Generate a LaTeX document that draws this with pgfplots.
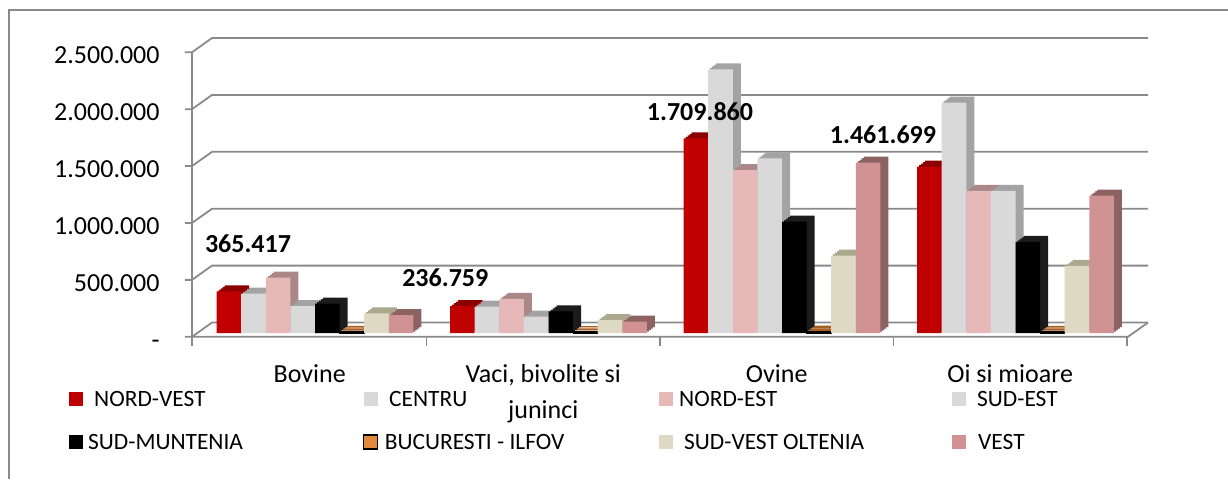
\documentclass[border=0pt]{standalone}
\usepackage{fontspec}
\setmainfont{Carlito}
\usepackage{pgfplots}
\pgfplotsset{compat=1.18}
\definecolor{frame}{HTML}{8A8A8A}
\definecolor{nv}{HTML}{C00000}\definecolor{nvS}{HTML}{8B0000}
\definecolor{ce}{HTML}{D9D9D9}\definecolor{ceS}{HTML}{A3A3A3}
\definecolor{ne}{HTML}{E6B9B8}\definecolor{neS}{HTML}{A98887}
\definecolor{se}{HTML}{D9D9D9}\definecolor{seS}{HTML}{A3A3A3}
\definecolor{sm}{HTML}{000000}\definecolor{smS}{HTML}{1C1C1C}
\definecolor{buc}{HTML}{E08A3C}\definecolor{bucS}{HTML}{A85F22}
\definecolor{sv}{HTML}{DDD9C3}\definecolor{svS}{HTML}{ABA88F}
\definecolor{ve}{HTML}{D09292}\definecolor{veS}{HTML}{8C6262}
% #1 front style, #2 depth colour, #3 bar shift, #4 coordinates, #5 legend text
\newcommand{\barseries}[5]{%
  \addplot[ybar, fill=#2, draw=none, bar shift=#3, xshift=1pt, yshift=0.75pt, forget plot] coordinates {#4};
  \addplot[ybar, fill=#2, draw=none, bar shift=#3, xshift=2pt, yshift=1.5pt, forget plot] coordinates {#4};
  \addplot[ybar, fill=#2, draw=none, bar shift=#3, xshift=3pt, yshift=2.25pt, forget plot] coordinates {#4};
  \addplot[ybar, fill=#2, draw=none, bar shift=#3, xshift=4pt, yshift=3pt, forget plot] coordinates {#4};
  \addplot[ybar, #1, bar shift=#3, legend image code/.code={\fill[#1] (0pt,-3.5pt) rectangle (7pt,3.5pt);}] coordinates {#4};
  \addlegendentry{#5}}
\begin{document}
\begin{tikzpicture}
\useasboundingbox (0,0) rectangle (614pt,239.5pt);
\draw[line width=0.9pt, color=frame] (4.5pt,0) -- (4.5pt,234.5pt) -- (614pt,234.5pt);
\begin{axis}[
  at={(96pt,67pt)}, anchor=south west,
  scale only axis, width=479pt, height=157.5pt,
  xmin=-0.52677, xmax=3.57602, ymin=-105448, ymax=2662566,
  clip=false,
  axis line style={draw=none}, major tick length=0pt, tick style={draw=none},
  scaled y ticks=false,
  xtick={-0.0225,0.9775,1.9775,2.9775},
  xticklabels={Bovine,{Vaci, bivolite si\\juninci},Ovine,Oi si mioare},
  xticklabel style={font=\fontsize{13}{18}\selectfont, align=center, anchor=north, inner sep=0pt, yshift=-9.5pt},
  ytick={-33000,467000,967000,1467000,1967000,2467000},
  yticklabels={-,500.000,1.000.000,1.500.000,2.000.000,2.500.000},
  yticklabel style={font=\fontsize{13}{15}\selectfont, anchor=east, inner sep=0pt, text height=8.2pt, text depth=0pt, xshift=-16pt, yshift=-1.7pt},
  bar width=0.10535,
  legend columns=4,
  legend cell align=left,
  legend style={draw=none, fill=none, at={(-0.128392,-0.139683)}, anchor=north west,
    inner sep=0pt, outer sep=0pt, row sep=11.5pt, column sep=0pt,
    font=\fontsize{11.7}{14}\selectfont,
    nodes={inner sep=0pt, text height=8.5pt, text depth=1.5pt}},
]
% back wall grid, front axis and floor
\addplot[frame, line width=0.9pt, forget plot] coordinates {(-0.55675,-33000)(-0.52677,-33000)(-0.44107,92000)(3.5675,92000)};
\addplot[frame, line width=0.9pt, forget plot] coordinates {(-0.55675,467000)(-0.52677,467000)(-0.44107,592000)(3.5675,592000)};
\addplot[frame, line width=0.9pt, forget plot] coordinates {(-0.55675,967000)(-0.52677,967000)(-0.44107,1092000)(3.5675,1092000)};
\addplot[frame, line width=0.9pt, forget plot] coordinates {(-0.55675,1467000)(-0.52677,1467000)(-0.44107,1592000)(3.5675,1592000)};
\addplot[frame, line width=0.9pt, forget plot] coordinates {(-0.55675,1967000)(-0.52677,1967000)(-0.44107,2092000)(3.5675,2092000)};
\addplot[frame, line width=0.9pt, forget plot] coordinates {(-0.55675,2467000)(-0.52677,2467000)(-0.44107,2592000)(3.5675,2592000)};
\addplot[frame, line width=0.9pt, forget plot] coordinates {(-0.52677,-114000)(-0.52677,2467000)};
\addplot[frame, line width=0.9pt, forget plot] coordinates {(-0.52677,-33000)(3.4818,-33000)(3.5675,92000)};
\addplot[frame, line width=0.9pt, forget plot] coordinates {(0.4775,-33000)(0.4775,-114000)};
\addplot[frame, line width=0.9pt, forget plot] coordinates {(1.4775,-33000)(1.4775,-114000)};
\addplot[frame, line width=0.9pt, forget plot] coordinates {(2.4775,-33000)(2.4775,-114000)};
\addplot[frame, line width=0.9pt, forget plot] coordinates {(3.4775,-33000)(3.4775,-114000)};
% series
\barseries{fill=nv, draw=none}{nvS}{-0.36873}{(0,365417)(1,236759)(2,1709860)(3,1461699)}{\makebox[140pt][l]{\hspace{5.6pt}NORD-VEST}}
\barseries{fill=ce, draw=none}{ceS}{-0.26338}{(0,345000)(1,232000)(2,2317000)(3,2024000)}{\makebox[140.5pt][l]{\hspace{5.5pt}CENTRU}}
\barseries{fill=ne, draw=none}{neS}{-0.15803}{(0,486000)(1,299000)(2,1432000)(3,1250000)}{\makebox[139.5pt][l]{\hspace{3pt}NORD-EST}}
\barseries{fill=se, draw=none}{seS}{-0.05268}{(0,237000)(1,143000)(2,1535000)(3,1250000)}{\makebox[100pt][l]{\hspace{5.5pt}SUD-EST}}
\barseries{fill=sm, draw=none}{smS}{0.05268}{(0,258000)(1,190000)(2,978000)(3,800000)}{\makebox[140pt][l]{\hspace{2.6pt}SUD-MUNTENIA}}
\barseries{fill=buc, draw=black, line width=0.6pt}{bucS}{0.15803}{(0,9000)(1,8000)(2,12000)(3,10000)}{\makebox[140.5pt][l]{\hspace{3.3pt}BUCURESTI - ILFOV}}
\barseries{fill=sv, draw=none}{svS}{0.26338}{(0,173000)(1,114000)(2,679000)(3,591000)}{\makebox[139.5pt][l]{\hspace{5.5pt}SUD-VEST OLTENIA}}
\barseries{fill=ve, draw=none}{veS}{0.36873}{(0,158000)(1,100000)(2,1497000)(3,1207000)}{\makebox[100pt][l]{\hspace{6pt}VEST}}
% data labels of NORD-VEST
\addplot[only marks, mark=none, forget plot, nodes near coords, point meta=explicit symbolic,
  nodes near coords style={font=\bfseries\fontsize{13}{15}\selectfont, anchor=center, inner sep=0pt}]
  coordinates {(-0.2869,784710)[365.417] (0.558,489455)[236.759] (1.6488,1942003)[1.709.860] (2.4325,1739895)[1.461.699]};
\end{axis}
\end{tikzpicture}
\end{document}
